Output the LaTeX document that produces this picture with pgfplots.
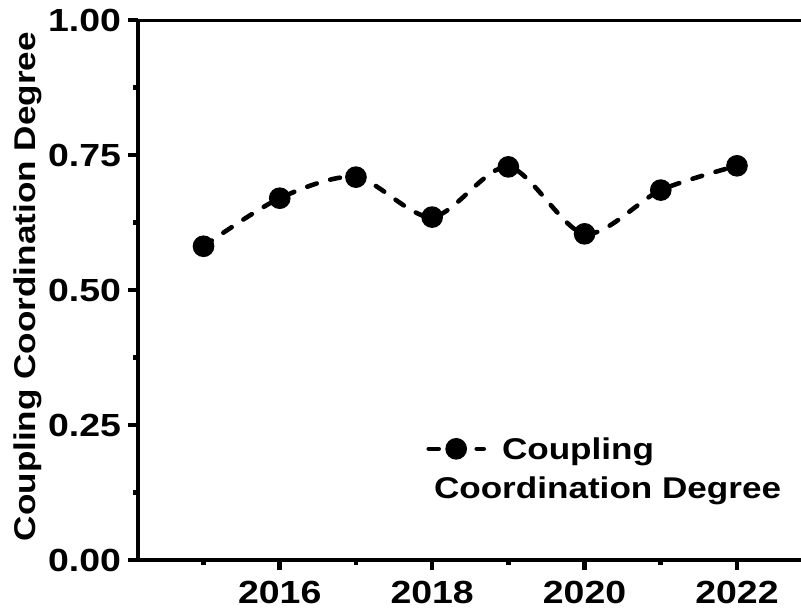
\documentclass[border=0pt]{standalone}
\usepackage{pgfplots}
\pgfplotsset{compat=1.18}
\usepackage{fontspec}
\setmainfont[FakeStretch=1.17]{Liberation Sans}
\newcommand\ff{\fontsize{15bp}{18bp}\selectfont\bfseries}
\newcommand\fft{\fontsize{16bp}{19bp}\selectfont\bfseries}
\begin{document}
\begin{tikzpicture}
\begin{axis}[
  scale only axis,
  width=331.5bp, height=270bp,
  xmin=2014.14, xmax=2022.84,
  ymin=0, ymax=1,
  axis lines*=left,
  axis line style={line width=2.3bp},
  tick align=outside,
  major tick length=5bp, minor tick length=2.5bp,
  every tick/.style={line width=2.3bp, black},
  xtick={2016,2018,2020,2022},
  minor xtick={2015,2017,2019,2021},
  ytick={0,0.25,0.5,0.75,1},
  minor ytick={0.125,0.375,0.625,0.875},
  /pgf/number format/assume math mode=true,
  xticklabel style={/pgf/number format/1000 sep={}, font=\fft, yshift=-2bp},
  yticklabel style={/pgf/number format/fixed, /pgf/number format/fixed zerofill, /pgf/number format/precision=2, font=\fft},
  ylabel={Coupling Coordination Degree},
  ylabel style={font=\ff, at={(axis description cs:-0.166,0.506)}, anchor=center},
  legend style={at={(rel axis cs:0.435,0.232)}, anchor=north west, draw=none, fill=none,
    inner sep=0pt, outer sep=0pt, font=\ff,
    nodes={inner sep=0pt, outer sep=0pt}},
  legend cell align=left,
  legend image code/.code={
    \draw[mark repeat=2, mark phase=2] plot coordinates {(0bp,0bp) (13.75bp,0bp) (27.5bp,0bp)};
  },
]
\addplot[black, line width=2.3bp, line cap=round, dash pattern=on 5bp off 7bp, smooth,
  mark=*, mark size=4.25bp, mark options={solid, fill=black}]
  coordinates {
  (2015,0.581) (2016,0.670) (2017,0.709) (2018,0.635)
  (2019,0.728) (2020,0.604) (2021,0.685) (2022,0.730)
  };
\addlegendentry{\begin{tabular}[t]{@{}l@{}}\hspace*{8bp}Coupling\\[1.5bp]\hspace*{-26bp}Coordination Degree\end{tabular}}
\draw[line width=2.3bp] (rel axis cs:0,0) -- (rel axis cs:0,1) -- (rel axis cs:1,1);
\end{axis}
\pgfresetboundingbox
\useasboundingbox (-69bp,-25bp) rectangle (331.5bp,280bp);
\end{tikzpicture}
\end{document}
